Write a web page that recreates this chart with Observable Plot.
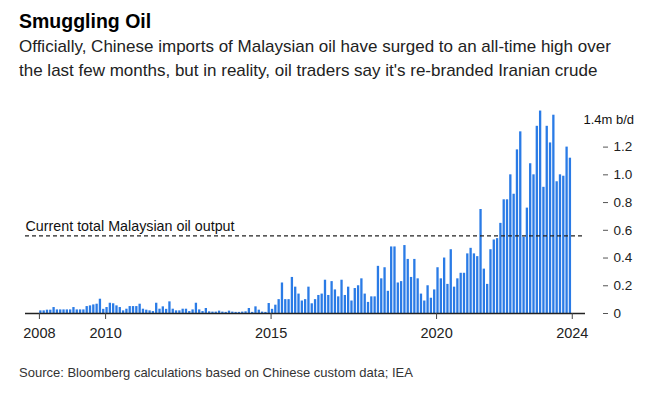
<!DOCTYPE html>
<html>
<head>
<meta charset="utf-8">
<script src="https://cdn.jsdelivr.net/npm/d3@7"></script>
<script src="https://cdn.jsdelivr.net/npm/@observablehq/plot@0.6"></script>
<style>
  body { margin: 0; background: #fff; }
  #wrap { position: relative; width: 657px; height: 396px; overflow: hidden; font-family: "Liberation Sans", Arial, sans-serif; color: #111; }
  #title { position: absolute; left: 19px; top: 9px; font-size: 19.5px; line-height: 24px; font-weight: bold; white-space: nowrap; color: #000; }
  #subtitle { position: absolute; left: 19px; top: 35px; font-size: 17px; line-height: 24px; white-space: nowrap; color: #222; }
  #chart { position: absolute; left: 0; top: 100px; }
  #source { position: absolute; left: 19px; top: 365px; font-size: 13px; white-space: nowrap; color: #333; }
</style>
</head>
<body>
<div id="wrap">
  <div id="title">Smuggling Oil</div>
  <div id="subtitle">Officially, Chinese imports of Malaysian oil have surged to an all-time high over<br>the last few months, but in reality, oil traders say it's re-branded Iranian crude</div>
  <div id="chart"></div>
  <div id="source">Source: Bloomberg calculations based on Chinese custom data; IEA</div>
</div>
<script>
// Chinese imports of Malaysian oil, million barrels per day, one value per reported period
const v2008 = [0.019, 0.019, 0.024, 0.024, 0.043, 0.026, 0.026, 0.026, 0.026, 0.026];
const v2009 = [0.043, 0.026, 0.026, 0.026, 0.05, 0.055, 0.062, 0.067, 0.103, 0.03];
const v2010 = [0.043, 0.074, 0.07, 0.055, 0.043, 0.019, 0.031, 0.05, 0.05, 0.05];
const v2011 = [0.067, 0.031, 0.024, 0.019, 0.014, 0.074, 0.031, 0.048, 0.03, 0.084];
const v2012 = [0.031, 0.019, 0.019, 0.031, 0.031, 0.014, 0.026, 0.074, 0.026, 0.014];
const v2013 = [0.036, 0.012, 0.01, 0.01, 0.017, 0.01, 0.008, 0.017, 0.01, 0.008];
const v2014 = [0.008, 0.01, 0.012, 0.036, 0.008, 0.048, 0.024, 0.01, 0.008, 0.072];
const v2015 = [0.03, 0.06, 0.1, 0.22, 0.1, 0.1, 0.26, 0.19, 0.14, 0.09];
const v2016 = [0.1, 0.19, 0.07, 0.1, 0.13, 0.14, 0.24, 0.13, 0.23, 0.17];
const v2017 = [0.12, 0.24, 0.13, 0.19, 0.09, 0.18, 0.2, 0.25, 0.14, 0.08];
const v2018 = [0.12, 0.12, 0.34, 0.25, 0.33, 0.16, 0.48, 0.48, 0.22, 0.23];
const v2019 = [0.49, 0.39, 0.26, 0.39, 0.25, 0.14, 0.09, 0.2, 0.11, 0.17];
const v2020 = [0.33, 0.25, 0.4, 0.21, 0.46, 0.19, 0.25, 0.29, 0.29, 0.43];
const v2021 = [0.47, 0.43, 0.41, 0.75, 0.32, 0.21, 0.46, 0.53, 0.54, 0.65];
const v2022 = [0.82, 0.82, 1.0, 0.86, 1.18, 1.31, 0.55, 0.76, 1.08, 1.0];
const v2023 = [1.35, 1.46, 0.91, 1.35, 1.23, 1.43, 0.95, 1.0, 0.99, 1.2, 1.12];

const years = [2008, 2009, 2010, 2011, 2012, 2013, 2014, 2015, 2016, 2017, 2018, 2019, 2020, 2021, 2022, 2023];
const yearValues = [v2008, v2009, v2010, v2011, v2012, v2013, v2014, v2015, v2016, v2017, v2018, v2019, v2020, v2021, v2022, v2023];

const tickYears = [2008, 2010, 2015, 2020, 2024];
const yTicks = [0, 0.2, 0.4, 0.6, 0.8, 1.0, 1.2];
const unitLabel = "1.4m b/d";
const unitLevel = 1.4;
const outputLevel = 0.56;
const outputLabel = "Current total Malaysian oil output";

// build table
const rows = [];
const yearStart = new Map();
let idx = 0;
years.forEach((yr, j) => {
  yearStart.set(yr, idx);
  for (const v of yearValues[j]) rows.push({ i: idx++, year: yr, v });
});
yearStart.set(2024, idx);
const tickPos = tickYears.map(y => yearStart.get(y));
const yearAt = new Map(tickYears.map((y, k) => [tickPos[k], y]));

const chart = Plot.plot({
  width: 657,
  height: 245,
  marginLeft: 25,
  marginRight: 72,
  marginTop: 5,
  marginBottom: 32,
  x: { type: "linear", domain: [-4.2, idx + 4] },
  y: { domain: [0, 1.5] },
  style: { fontFamily: "'Liberation Sans', Arial, sans-serif", fontSize: "13px", color: "#222", background: "transparent", overflow: "visible" },
  marks: [
    Plot.rectY(rows, { x1: "i", x2: d => d.i + 1, y: "v", fill: "#2a7be6", insetLeft: 0.3, insetRight: 0.7 }),
    Plot.ruleY([outputLevel], { stroke: "#222", strokeWidth: 1.2, strokeDasharray: "4,3" }),
    Plot.text([outputLabel], { y: () => outputLevel, text: d => d, frameAnchor: "left", textAnchor: "start", dy: -9, fontSize: 14.3, fill: "#111" }),
    Plot.ruleY([0], { stroke: "#222", strokeWidth: 1.5 }),
    Plot.axisX(tickPos, { tickFormat: d => String(yearAt.get(d)), tickSize: 6, tickPadding: 8, fontSize: 14.5, stroke: "#444", label: null }),
    Plot.axisY(yTicks, { anchor: "right", tickFormat: d => d === 0 ? "0" : d.toFixed(1), tickSize: 5, tickPadding: 6, dx: 17, fontSize: 13.5, stroke: "#555", label: null }),
    Plot.text([unitLabel], { y: () => unitLevel, text: d => d, frameAnchor: "right", textAnchor: "start", dx: -2, fontSize: 13, fill: "#111" })
  ]
});
document.getElementById("chart").appendChild(chart);
</script>
</body>
</html>
